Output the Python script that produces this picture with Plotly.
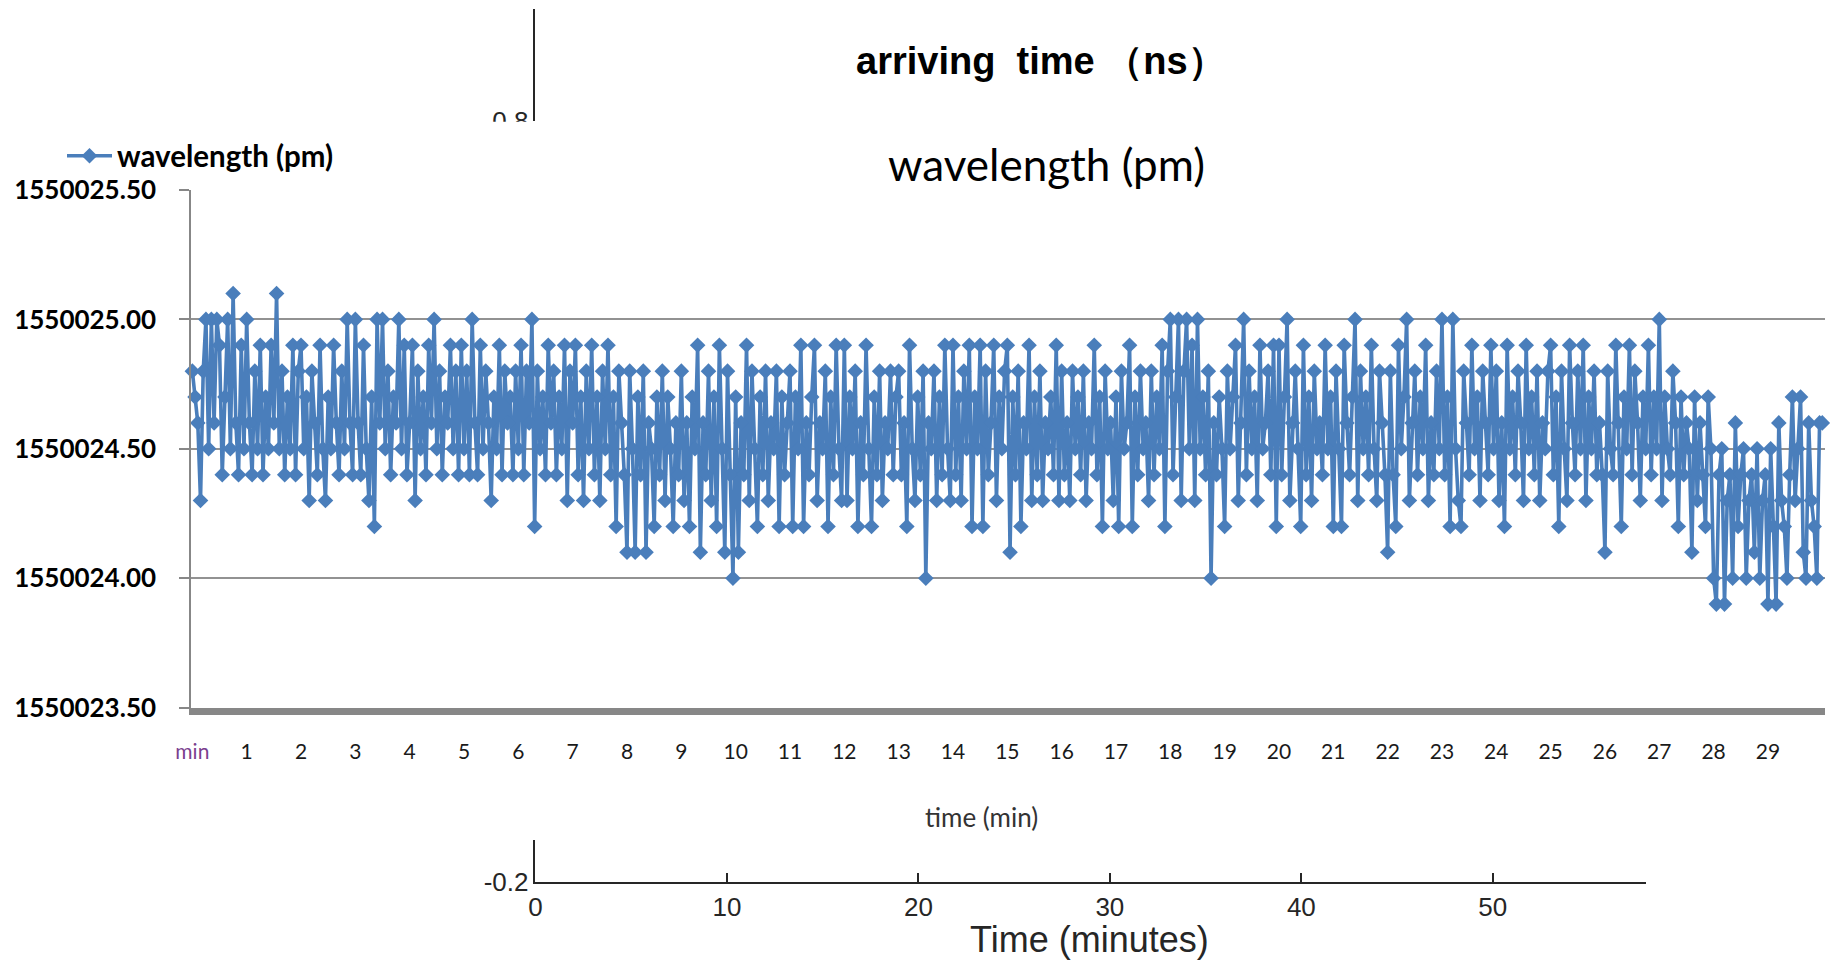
import plotly.graph_objects as go

# ---------------- data ----------------
# wavelength samples in pm, 20 samples per minute (Excel category axis)
wl_min00_04 = [
    1550024.8, 1550024.7, 1550024.6, 1550024.3, 1550024.8, 1550025.0, 1550024.5, 1550025.0, 1550024.6, 1550025.0, 1550024.9, 1550024.4, 1550024.7, 1550025.0, 1550024.5, 1550025.1, 1550024.6, 1550024.4, 1550024.9, 1550024.5,
    1550025.0, 1550024.6, 1550024.4, 1550024.8, 1550024.5, 1550024.9, 1550024.4, 1550024.7, 1550024.5, 1550024.9, 1550024.6, 1550025.1, 1550024.5, 1550024.8, 1550024.4, 1550024.7, 1550024.5, 1550024.9, 1550024.4, 1550024.8,
    1550024.9, 1550024.5, 1550024.7, 1550024.3, 1550024.8, 1550024.6, 1550024.4, 1550024.9, 1550024.5, 1550024.3, 1550024.7, 1550024.5, 1550024.9, 1550024.6, 1550024.4, 1550024.8, 1550024.5, 1550025.0, 1550024.6, 1550024.4,
    1550025.0, 1550024.6, 1550024.4, 1550024.9, 1550024.5, 1550024.3, 1550024.7, 1550024.2, 1550025.0, 1550024.6, 1550025.0, 1550024.5, 1550024.8, 1550024.4, 1550024.7, 1550024.6, 1550025.0, 1550024.5, 1550024.9, 1550024.4,
    1550024.6, 1550024.9, 1550024.3, 1550024.8, 1550024.5, 1550024.7, 1550024.4, 1550024.9, 1550024.6, 1550025.0, 1550024.5, 1550024.8, 1550024.4, 1550024.7, 1550024.6, 1550024.9, 1550024.5, 1550024.8, 1550024.4, 1550024.9,
]
wl_min05_09 = [
    1550024.5, 1550024.8, 1550024.4, 1550025.0, 1550024.6, 1550024.4, 1550024.9, 1550024.5, 1550024.8, 1550024.6, 1550024.3, 1550024.7, 1550024.5, 1550024.9, 1550024.4, 1550024.8, 1550024.6, 1550024.7, 1550024.4, 1550024.8,
    1550024.5, 1550024.9, 1550024.4, 1550024.8, 1550024.6, 1550025.0, 1550024.2, 1550024.8, 1550024.5, 1550024.7, 1550024.4, 1550024.9, 1550024.6, 1550024.8, 1550024.4, 1550024.7, 1550024.5, 1550024.9, 1550024.3, 1550024.8,
    1550024.6, 1550024.9, 1550024.4, 1550024.7, 1550024.3, 1550024.8, 1550024.5, 1550024.9, 1550024.4, 1550024.7, 1550024.3, 1550024.8, 1550024.5, 1550024.9, 1550024.4, 1550024.7, 1550024.2, 1550024.8, 1550024.6, 1550024.4,
    1550024.1, 1550024.8, 1550024.5, 1550024.1, 1550024.7, 1550024.4, 1550024.8, 1550024.1, 1550024.6, 1550024.5, 1550024.2, 1550024.7, 1550024.4, 1550024.8, 1550024.3, 1550024.7, 1550024.5, 1550024.2, 1550024.6, 1550024.4,
    1550024.8, 1550024.3, 1550024.6, 1550024.2, 1550024.7, 1550024.5, 1550024.9, 1550024.1, 1550024.6, 1550024.4, 1550024.8, 1550024.3, 1550024.7, 1550024.2, 1550024.9, 1550024.5, 1550024.1, 1550024.8, 1550024.4, 1550024.0,
]
wl_min10_14 = [
    1550024.7, 1550024.1, 1550024.6, 1550024.4, 1550024.9, 1550024.3, 1550024.8, 1550024.5, 1550024.2, 1550024.7, 1550024.4, 1550024.8, 1550024.3, 1550024.6, 1550024.5, 1550024.8, 1550024.2, 1550024.7, 1550024.4, 1550024.6,
    1550024.8, 1550024.2, 1550024.7, 1550024.5, 1550024.9, 1550024.2, 1550024.6, 1550024.4, 1550024.7, 1550024.9, 1550024.3, 1550024.6, 1550024.5, 1550024.8, 1550024.2, 1550024.7, 1550024.4, 1550024.9, 1550024.5, 1550024.3,
    1550024.9, 1550024.3, 1550024.7, 1550024.5, 1550024.8, 1550024.2, 1550024.6, 1550024.4, 1550024.9, 1550024.5, 1550024.2, 1550024.7, 1550024.4, 1550024.8, 1550024.3, 1550024.6, 1550024.5, 1550024.8, 1550024.4, 1550024.7,
    1550024.8, 1550024.4, 1550024.6, 1550024.2, 1550024.9, 1550024.5, 1550024.3, 1550024.7, 1550024.4, 1550024.8, 1550024.0, 1550024.6, 1550024.5, 1550024.8, 1550024.3, 1550024.7, 1550024.4, 1550024.9, 1550024.5, 1550024.3,
    1550024.9, 1550024.4, 1550024.7, 1550024.3, 1550024.8, 1550024.5, 1550024.9, 1550024.2, 1550024.7, 1550024.5, 1550024.9, 1550024.2, 1550024.8, 1550024.4, 1550024.6, 1550024.9, 1550024.3, 1550024.7, 1550024.5, 1550024.8,
]
wl_min15_19 = [
    1550024.9, 1550024.1, 1550024.7, 1550024.4, 1550024.8, 1550024.2, 1550024.6, 1550024.5, 1550024.9, 1550024.3, 1550024.7, 1550024.4, 1550024.8, 1550024.3, 1550024.6, 1550024.5, 1550024.7, 1550024.4, 1550024.9, 1550024.3,
    1550024.8, 1550024.4, 1550024.6, 1550024.3, 1550024.8, 1550024.5, 1550024.7, 1550024.4, 1550024.8, 1550024.3, 1550024.6, 1550024.5, 1550024.9, 1550024.4, 1550024.7, 1550024.2, 1550024.8, 1550024.5, 1550024.6, 1550024.3,
    1550024.7, 1550024.2, 1550024.8, 1550024.5, 1550024.6, 1550024.9, 1550024.2, 1550024.7, 1550024.4, 1550024.8, 1550024.5, 1550024.6, 1550024.3, 1550024.8, 1550024.4, 1550024.7, 1550024.5, 1550024.9, 1550024.2, 1550024.8,
    1550025.0, 1550024.4, 1550024.7, 1550025.0, 1550024.3, 1550024.8, 1550025.0, 1550024.5, 1550024.9, 1550024.3, 1550025.0, 1550024.5, 1550024.7, 1550024.4, 1550024.8, 1550024.0, 1550024.6, 1550024.4, 1550024.7, 1550024.5,
    1550024.2, 1550024.8, 1550024.5, 1550024.7, 1550024.9, 1550024.3, 1550024.6, 1550025.0, 1550024.4, 1550024.8, 1550024.5, 1550024.7, 1550024.3, 1550024.9, 1550024.5, 1550024.6, 1550024.8, 1550024.4, 1550024.9, 1550024.2,
]
wl_min20_24 = [
    1550024.9, 1550024.4, 1550024.7, 1550025.0, 1550024.3, 1550024.6, 1550024.8, 1550024.5, 1550024.2, 1550024.9, 1550024.4, 1550024.7, 1550024.3, 1550024.8, 1550024.5, 1550024.6, 1550024.4, 1550024.9, 1550024.5, 1550024.7,
    1550024.2, 1550024.8, 1550024.5, 1550024.2, 1550024.9, 1550024.6, 1550024.4, 1550024.7, 1550025.0, 1550024.3, 1550024.8, 1550024.5, 1550024.7, 1550024.4, 1550024.9, 1550024.5, 1550024.3, 1550024.8, 1550024.6, 1550024.4,
    1550024.1, 1550024.8, 1550024.4, 1550024.2, 1550024.9, 1550024.5, 1550024.7, 1550025.0, 1550024.3, 1550024.6, 1550024.8, 1550024.4, 1550024.7, 1550024.5, 1550024.9, 1550024.3, 1550024.6, 1550024.4, 1550024.8, 1550024.5,
    1550025.0, 1550024.4, 1550024.7, 1550024.2, 1550025.0, 1550024.5, 1550024.3, 1550024.2, 1550024.8, 1550024.6, 1550024.4, 1550024.9, 1550024.5, 1550024.7, 1550024.3, 1550024.8, 1550024.6, 1550024.4, 1550024.9, 1550024.5,
    1550024.8, 1550024.3, 1550024.6, 1550024.2, 1550024.9, 1550024.5, 1550024.7, 1550024.4, 1550024.8, 1550024.6, 1550024.3, 1550024.9, 1550024.5, 1550024.7, 1550024.4, 1550024.8, 1550024.3, 1550024.6, 1550024.5, 1550024.8,
]
wl_min25_30 = [
    1550024.9, 1550024.4, 1550024.7, 1550024.2, 1550024.8, 1550024.5, 1550024.3, 1550024.9, 1550024.6, 1550024.4, 1550024.8, 1550024.5, 1550024.9, 1550024.3, 1550024.7, 1550024.5, 1550024.8, 1550024.4, 1550024.6, 1550024.4,
    1550024.1, 1550024.8, 1550024.5, 1550024.4, 1550024.9, 1550024.6, 1550024.2, 1550024.7, 1550024.5, 1550024.9, 1550024.4, 1550024.8, 1550024.6, 1550024.3, 1550024.7, 1550024.5, 1550024.9, 1550024.4, 1550024.7, 1550024.5,
    1550025.0, 1550024.3, 1550024.7, 1550024.5, 1550024.4, 1550024.8, 1550024.6, 1550024.2, 1550024.7, 1550024.4, 1550024.6, 1550024.5, 1550024.1, 1550024.7, 1550024.3, 1550024.6, 1550024.4, 1550024.2, 1550024.7, 1550024.5,
    1550024.0, 1550023.9, 1550024.4, 1550024.5, 1550023.9, 1550024.3, 1550024.4, 1550024.0, 1550024.6, 1550024.2, 1550024.4, 1550024.5, 1550024.0, 1550024.3, 1550024.4, 1550024.1, 1550024.5, 1550024.0, 1550024.3, 1550024.4,
    1550023.9, 1550024.5, 1550024.2, 1550023.9, 1550024.6, 1550024.3, 1550024.2, 1550024.0, 1550024.4, 1550024.7, 1550024.3, 1550024.5, 1550024.7, 1550024.1, 1550024.0, 1550024.6, 1550024.3, 1550024.2, 1550024.0, 1550024.6,
    1550024.6,
]
wavelength = wl_min00_04 + wl_min05_09 + wl_min10_14 + wl_min15_19 + wl_min20_24 + wl_min25_30
SAMPLES_PER_MIN = 20
sample_index = list(range(len(wavelength)))

minute_labels = ["min"] + [str(m) for m in range(1, 30)]
minute_ticks = [m * SAMPLES_PER_MIN for m in range(len(minute_labels))]
wl_yticks = [1550023.5, 1550024.0, 1550024.5, 1550025.0, 1550025.5]

# background (MATLAB) axes
bg_xticks = [0, 10, 20, 30, 40, 50]
bg_xrange = [0, 58]
bg_top_tick = [0.8]
bg_bottom_tick = [-0.2]

W, H = 1837, 962
def px(x):
    return x / W
def py(y):
    return 1 - y / H

BLUE = "#4a7ebb"
ticktext = ["<span style='color:#7b3f8f'>min</span>"] + minute_labels[1:]

fig = go.Figure()
fig.add_trace(go.Scatter(
    x=sample_index, y=wavelength, mode="lines+markers",
    name="wavelength (pm)",
    line=dict(color=BLUE, width=3.6),
    marker=dict(symbol="diamond", size=12, color=BLUE),
    cliponaxis=False, xaxis="x", yaxis="y",
))
# empty traces so the background axes are drawn
fig.add_trace(go.Scatter(x=[None], y=[None], xaxis="x2", yaxis="y2",
                         showlegend=False, hoverinfo="skip"))
fig.add_trace(go.Scatter(x=[None], y=[None], xaxis="x2", yaxis="y3",
                         showlegend=False, hoverinfo="skip"))

mat_col = "#262626"
mat_font = "Liberation Sans, Arial"
fig.update_layout(
    width=W, height=H,
    margin=dict(l=0, r=0, t=0, b=0, autoexpand=False),
    paper_bgcolor="white", plot_bgcolor="rgba(0,0,0,0)",
    showlegend=True,
    legend=dict(x=px(62), y=py(156), xanchor="left", yanchor="middle",
                itemwidth=45,
                font=dict(family="Lato", size=29.5, color="black", weight="bold"),
                bgcolor="rgba(0,0,0,0)", borderwidth=0),
    # Excel chart axes
    xaxis=dict(domain=[px(191), px(1825)], range=[-0.5, 601], anchor="y",
               automargin=False,
               tickmode="array", tickvals=minute_ticks, ticktext=ticktext,
               showgrid=False, zeroline=False, showline=True,
               linecolor="#878787", linewidth=7, ticks="",
               tickfont=dict(family="Lato", size=21, color="#1a1a1a"),
               ticklabelstandoff=19),
    yaxis=dict(domain=[py(707.6), py(190)], range=[wl_yticks[0], wl_yticks[-1]],
               anchor="x", automargin=False,
               tickmode="array", tickvals=wl_yticks, tickformat=".2f",
               showgrid=True, gridcolor="#929292", gridwidth=1.5,
               zeroline=False, showline=True, linecolor="#878787", linewidth=1.5,
               ticks="outside", ticklen=10, tickcolor="#878787", tickwidth=1.5,
               tickfont=dict(family="Lato", size=26, color="black", weight="bold"),
               ticklabelstandoff=18),
    # MATLAB background axes
    xaxis2=dict(domain=[px(535.4), px(1646)], range=bg_xrange, anchor="y2",
                automargin=False,
                tickmode="array", tickvals=bg_xticks, ticks="inside", ticklen=9,
                tickcolor=mat_col, tickwidth=1.5, showline=True, linecolor=mat_col,
                linewidth=1.5, showgrid=False, zeroline=False,
                tickfont=dict(family=mat_font, size=26, color=mat_col),
                ticklabelstandoff=1),
    yaxis2=dict(domain=[py(882), py(840)], range=[-0.2, -0.1448], anchor="x2",
                automargin=False,
                tickmode="array", tickvals=bg_bottom_tick, ticktext=["-0.2"],
                ticks="inside", ticklen=9, tickcolor=mat_col, tickwidth=1.5,
                showline=True, linecolor=mat_col, linewidth=1.5, showgrid=False,
                zeroline=False,
                tickfont=dict(family=mat_font, size=26, color=mat_col)),
    yaxis3=dict(domain=[py(121), py(9.4)], range=[0.8, 0.9466], anchor="x2",
                automargin=False,
                tickmode="array", tickvals=bg_top_tick, ticktext=["0.8"],
                ticks="inside", ticklen=9, tickcolor=mat_col, tickwidth=1.5,
                showline=True, linecolor=mat_col, linewidth=1.5, showgrid=False,
                zeroline=False,
                tickfont=dict(family=mat_font, size=26, color=mat_col)),
    shapes=[dict(type="rect", xref="paper", yref="paper", layer="above",
                 x0=px(440), x1=px(533), y0=py(150), y1=py(121.8),
                 fillcolor="white", line=dict(width=0))],
    annotations=[
        dict(text="arriving\u00a0\u00a0time\u00a0（ns）", x=px(1041), y=py(61),
             xref="paper", yref="paper", showarrow=False, xanchor="center", yanchor="middle",
             font=dict(family=mat_font, size=38, color="black", weight="bold")),
        dict(text="wavelength (pm)", x=px(1046), y=py(164), xref="paper", yref="paper",
             showarrow=False, xanchor="center", yanchor="middle",
             font=dict(family="Lato", size=44, color="black")),
        dict(text="time (min)", x=px(982), y=py(816.6), xref="paper", yref="paper",
             showarrow=False, xanchor="center", yanchor="middle",
             font=dict(family="Lato", size=26, color="#333333")),
        dict(text="Time (minutes)", x=px(1089.6), y=py(939.6), xref="paper", yref="paper",
             showarrow=False, xanchor="center", yanchor="middle",
             font=dict(family=mat_font, size=36, color=mat_col)),
    ],
)

fig.write_html("out.html")
